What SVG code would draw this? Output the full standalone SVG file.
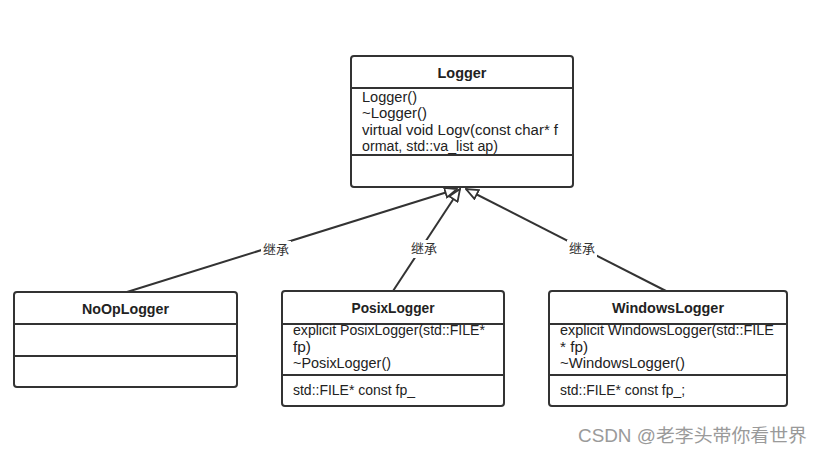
<svg xmlns="http://www.w3.org/2000/svg" width="822" height="453" viewBox="0 0 822 453">
<style>
.box{fill:#fff;stroke:#333;stroke-width:2}
.div{stroke:#333;stroke-width:2}
.t{font-family:"Liberation Sans","Noto Sans CJK SC",sans-serif;font-size:14px;fill:#222}
.h{font-family:"Liberation Sans","Noto Sans CJK SC",sans-serif;font-size:14px;font-weight:bold;fill:#222;text-anchor:middle}
.edge{stroke:#333;stroke-width:2;fill:none;marker-end:url(#tri)}
.lbl{font-family:"Noto Sans CJK SC","Liberation Sans",sans-serif;font-size:13px;fill:#333;text-anchor:middle}
.wm{font-family:"Liberation Sans","Noto Sans CJK SC",sans-serif;font-size:18px;fill:#9a9a9a}
</style>
<defs>
<marker id="tri" viewBox="0 0 14 12" refX="13" refY="6" markerWidth="14" markerHeight="12" markerUnits="userSpaceOnUse" orient="auto">
<path d="M1,1 L13,6 L1,11 Z" fill="#fff" stroke="#333" stroke-width="1.8"/>
</marker>
</defs>
<rect width="822" height="453" fill="#fff"/>
<g id="connectors">
<line class="edge" x1="127" y1="292" x2="457" y2="189"/>
<line class="edge" x1="393" y1="291" x2="460" y2="189"/>
<line class="edge" x1="666" y1="291" x2="466" y2="189"/>
<rect x="261" y="241" width="30" height="18" fill="#fff"/>
<text class="lbl" x="276" y="254">继承</text>
<rect x="409" y="240" width="30" height="18" fill="#fff"/>
<text class="lbl" x="424" y="253">继承</text>
<rect x="567" y="240" width="30" height="18" fill="#fff"/>
<text class="lbl" x="582" y="253">继承</text>
</g>
<g id="Logger">
<rect class="box" x="351" y="56" width="222" height="131" rx="3"/>
<line class="div" x1="351" y1="88" x2="573" y2="88"/>
<line class="div" x1="351" y1="155" x2="573" y2="155"/>
<text class="h" x="462" y="78" textLength="49" lengthAdjust="spacingAndGlyphs">Logger</text>
<text class="t" x="362" y="102" textLength="55" lengthAdjust="spacingAndGlyphs">Logger()</text>
<text class="t" x="362" y="118" textLength="65" lengthAdjust="spacingAndGlyphs">~Logger()</text>
<text class="t" x="362" y="135" textLength="196" lengthAdjust="spacingAndGlyphs">virtual void Logv(const char* f</text>
<text class="t" x="362" y="151" textLength="136" lengthAdjust="spacingAndGlyphs">ormat, std::va_list ap)</text>
</g>
<g id="NoOpLogger">
<rect class="box" x="14" y="292" width="223" height="95" rx="3"/>
<line class="div" x1="14" y1="324" x2="237" y2="324"/>
<line class="div" x1="14" y1="356" x2="237" y2="356"/>
<text class="h" x="125.5" y="314" textLength="87" lengthAdjust="spacingAndGlyphs">NoOpLogger</text>
</g>
<g id="PosixLogger">
<rect class="box" x="282" y="291" width="222" height="115" rx="3"/>
<line class="div" x1="282" y1="324" x2="504" y2="324"/>
<line class="div" x1="282" y1="375" x2="504" y2="375"/>
<text class="h" x="393" y="313" textLength="83" lengthAdjust="spacingAndGlyphs">PosixLogger</text>
<text class="t" x="293" y="335" textLength="192" lengthAdjust="spacingAndGlyphs">explicit PosixLogger(std::FILE*</text>
<text class="t" x="293" y="352" textLength="18" lengthAdjust="spacingAndGlyphs">fp)</text>
<text class="t" x="293" y="368" textLength="98" lengthAdjust="spacingAndGlyphs">~PosixLogger()</text>
<text class="t" x="293" y="395" textLength="122" lengthAdjust="spacingAndGlyphs">std::FILE* const fp_</text>
</g>
<g id="WindowsLogger">
<rect class="box" x="549" y="291" width="238" height="115" rx="3"/>
<line class="div" x1="549" y1="324" x2="787" y2="324"/>
<line class="div" x1="549" y1="375" x2="787" y2="375"/>
<text class="h" x="668" y="313" textLength="112" lengthAdjust="spacingAndGlyphs">WindowsLogger</text>
<text class="t" x="560" y="335" textLength="214" lengthAdjust="spacingAndGlyphs">explicit WindowsLogger(std::FILE</text>
<text class="t" x="560" y="352" textLength="28" lengthAdjust="spacingAndGlyphs">* fp)</text>
<text class="t" x="560" y="368" textLength="125" lengthAdjust="spacingAndGlyphs">~WindowsLogger()</text>
<text class="t" x="560" y="395" textLength="125" lengthAdjust="spacingAndGlyphs">std::FILE* const fp_;</text>
</g>
<text class="wm" x="578" y="442" textLength="229" lengthAdjust="spacingAndGlyphs">CSDN @老李头带你看世界</text>
</svg>
